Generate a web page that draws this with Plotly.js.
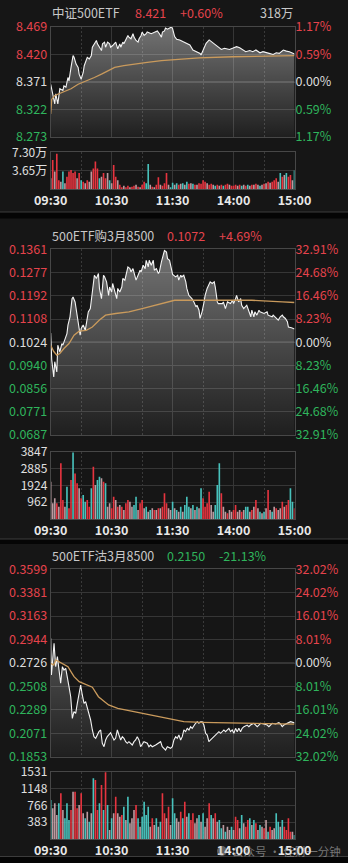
<!DOCTYPE html>
<html><head><meta charset="utf-8">
<script src="https://cdn.plot.ly/plotly-3.0.1.min.js"></script>
<style>html,body{margin:0;padding:0;background:#161616;}#c{width:348px;height:863px;}</style>
</head><body><div id="c"></div><script>
// ---------- data ----------
const names = ['中证500ETF','500ETF购3月8500','500ETF沽3月8500'];
const lastPrice = ['8.421','0.1072','0.2150'];
const lastChange = ['+0.60%','+4.69%','-21.13%'];
const turnover = '318万';
const timeTicks = [0,60,120,180,240];
const timeLabels = ['09:30','10:30','11:30','14:00','15:00'];
const halfHourTicks = [30,90,150,210];

// panel 1 : 中证500ETF
const p1Ticks = [8.469,8.420,8.371,8.322,8.273];
const p1Labels = ['8.469','8.420','8.371','8.322','8.273'];
const p1Pct = ['1.17%','0.59%','0.00%','0.59%','1.17%'];
const p1Min = [0,2,4,5,7,9,12,13,15,17,18,20,22,23,25,27,28,30,32,33,35,36,38,40,41,43,45,46,48,50,51,53,54,56,58,59,61,63,64,66,68,69,71,72,74,76,77,79,81,82,84,86,87,89,90,92,94,95,99,102,105,107,109,110,112,113,115,118,119,120,122,124,127,130,133,137,140,143,147,148,150,153,156,158,161,165,168,171,176,179,183,186,189,192,196,199,202,206,209,212,215,219,222,225,229,232,235,240];
const p1Val = [8.367,8.347,8.332,8.350,8.332,8.359,8.356,8.364,8.362,8.379,8.373,8.397,8.418,8.415,8.403,8.397,8.385,8.376,8.388,8.400,8.409,8.415,8.412,8.418,8.433,8.439,8.445,8.439,8.433,8.427,8.439,8.442,8.433,8.442,8.439,8.433,8.436,8.439,8.442,8.430,8.439,8.433,8.442,8.439,8.448,8.454,8.451,8.448,8.457,8.451,8.445,8.442,8.448,8.454,8.460,8.454,8.457,8.460,8.457,8.460,8.462,8.457,8.451,8.460,8.462,8.467,8.465,8.468,8.469,8.466,8.452,8.447,8.446,8.443,8.440,8.437,8.428,8.425,8.422,8.419,8.428,8.440,8.446,8.443,8.440,8.434,8.429,8.431,8.429,8.431,8.434,8.432,8.429,8.425,8.427,8.425,8.428,8.423,8.425,8.423,8.422,8.420,8.423,8.422,8.428,8.426,8.425,8.421];
const a1Min = [0,1,4,13,20,27,36,43,50,56,63,72,82,95,109,121,146,179,212,240];
const a1Val = [8.314,8.340,8.347,8.353,8.359,8.367,8.373,8.379,8.385,8.391,8.397,8.400,8.403,8.406,8.409,8.411,8.414,8.416,8.417,8.418];
const v1Ticks = [3.65,7.30];
const v1Labels = ['3.65万','7.30万'];
const v1 = [2.2,5.8,3.5,7.0,1.8,1.5,3.5,1.2,2.5,3.5,3.8,3.2,3.5,2.2,3.2,1.8,1.5,1.2,1.8,1.5,3.5,4.1,5.5,4.1,2.2,2.5,3.2,2.2,3.2,1.8,1.2,4.8,2.5,1.8,0.9,0.4,0.7,0.4,0.7,0.4,0.5,0.7,0.9,0.5,0.4,0.9,1.5,1.2,5.0,0.9,0.5,0.4,0.9,2.4,0.9,0.7,1.2,3.2,0.9,0.4,1.3,0.9,1.2,0.9,1.1,1.2,0.9,1.5,1.1,1.2,1.1,0.9,0.9,1.2,1.1,1.8,1.5,1.2,0.9,1.1,0.9,0.7,0.9,0.7,0.9,0.7,0.9,1.1,0.9,0.7,0.7,0.9,0.7,0.9,0.7,0.9,0.7,0.9,0.7,0.9,0.9,1.1,0.9,0.7,0.9,1.1,1.2,1.5,1.3,1.5,1.8,2.2,1.5,3.2,2.5,2.8,3.2,2.5,2.8,1.8,3.7];
const v1Dir = ("grgrrgtgrr"+"rrrgrtrgrg"+"grrrtgrrgt"+"grrgrrgrrg"+"rrgrgrrttg"+"rgrrgrrrgt"+"tgtrgtgtrg"+"trgrrrrgrr"+"gtrgrtrrgr"+"rrgrtgrtgr"+"grgtgrgrgr"+"rrgtrgtrrgt").split('');

// panel 2 : 500ETF购3月8500
const p2Ticks = [0.1361,0.1277,0.1192,0.1108,0.1024,0.0940,0.0856,0.0771,0.0687];
const p2Labels = ['0.1361','0.1277','0.1192','0.1108','0.1024','0.0940','0.0856','0.0771','0.0687'];
const p2Pct = ['32.91%','24.68%','16.46%','8.23%','0.00%','8.23%','16.46%','24.68%','32.91%'];
const p2Min = [0,1,3,4,6,7,9,11,12,14,16,17,19,21,22,24,25,27,29,30,32,34,35,37,39,40,42,43,45,47,48,50,52,53,55,57,58,60,61,63,65,66,68,70,71,73,75,76,78,79,81,83,84,86,88,89,91,93,94,96,97,99,101,102,104,106,107,109,111,112,114,115,117,119,120,123,125,126,128,129,131,133,134,136,138,139,141,143,144,146,147,149,151,152,154,156,157,159,161,162,164,165,169,170,172,174,177,179,180,182,183,185,187,188,190,193,195,197,198,200,201,203,205,206,210,213,214,218,219,221,224,226,228,229,231,233,234,237,240];
const p2Val = [0.1057,0.0960,0.0898,0.0953,0.0916,0.1013,0.0989,0.1019,0.1013,0.1037,0.1055,0.1086,0.1116,0.1182,0.1188,0.1170,0.1146,0.1098,0.1049,0.1074,0.1086,0.1067,0.1086,0.1134,0.1146,0.1182,0.1243,0.1267,0.1255,0.1273,0.1219,0.1182,0.1267,0.1261,0.1243,0.1194,0.1224,0.1206,0.1237,0.1206,0.1182,0.1219,0.1206,0.1224,0.1255,0.1249,0.1291,0.1297,0.1291,0.1279,0.1291,0.1261,0.1249,0.1267,0.1285,0.1279,0.1303,0.1291,0.1321,0.1297,0.1321,0.1303,0.1321,0.1285,0.1291,0.1273,0.1279,0.1315,0.1339,0.1357,0.1351,0.1327,0.1321,0.1291,0.1270,0.1261,0.1267,0.1249,0.1267,0.1261,0.1267,0.1243,0.1219,0.1194,0.1188,0.1182,0.1170,0.1152,0.1158,0.1140,0.1110,0.1134,0.1170,0.1194,0.1219,0.1237,0.1243,0.1237,0.1243,0.1224,0.1170,0.1164,0.1164,0.1170,0.1146,0.1170,0.1164,0.1176,0.1164,0.1182,0.1194,0.1170,0.1182,0.1158,0.1146,0.1158,0.1134,0.1116,0.1140,0.1116,0.1134,0.1122,0.1140,0.1134,0.1128,0.1134,0.1122,0.1116,0.1122,0.1116,0.1104,0.1116,0.1122,0.1116,0.1110,0.1098,0.1079,0.1076,0.1072];
const a2Min = [0,3,6,9,13,18,23,28,35,41,48,54,64,77,90,103,122,152,169,198,228,240];
const a2Val = [0.1013,0.0990,0.0977,0.0983,0.1001,0.1019,0.1049,0.1064,0.1067,0.1079,0.1104,0.1122,0.1128,0.1134,0.1146,0.1158,0.1176,0.1176,0.1177,0.1176,0.1170,0.1168];
const v2Ticks = [962,1924,2885,3847];
const v2Labels = ['962','1924','2885','3847'];
const v2 = [2133,895,1180,895,704,3180,1085,704,1847,609,2228,3800,2608,2037,1752,1180,1371,990,1085,704,1752,2989,1942,2228,2418,2323,2133,2037,704,895,609,1276,1085,704,800,704,514,895,1085,990,704,800,1276,514,895,1085,609,704,419,514,609,514,514,609,609,704,1466,895,609,514,990,609,514,419,704,419,800,1276,704,609,800,514,704,609,1752,1180,704,895,1561,800,419,800,1942,3180,1466,704,419,324,514,419,514,800,419,514,419,514,704,704,419,514,704,1085,609,419,324,419,609,1657,514,419,704,609,514,609,990,704,800,1085,1752,990,609];
const v2Dir = ("gggrgrrgtr"+"rtrrgrttrr"+"trgttgrtgg"+"rrgrgrgrrg"+"gttgrrgtgt"+"grgrgrrrgg"+"tgtgtgtttg"+"tgtgtrrrrg"+"gtttrggrgg"+"rrggrgttgr"+"grgtgtgrgt"+"grggrgrrttr").split('');

// panel 3 : 500ETF沽3月8500
const p3Ticks = [0.3599,0.3381,0.3163,0.2944,0.2726,0.2508,0.2289,0.2071,0.1853];
const p3Labels = ['0.3599','0.3381','0.3163','0.2944','0.2726','0.2508','0.2289','0.2071','0.1853'];
const p3Pct = ['32.02%','24.02%','16.01%','8.01%','0.00%','8.01%','16.01%','24.02%','32.02%'];
const p3Min = [0,0.7,3.3,4.9,6.6,8.2,9.8,11.5,13.1,14.8,16.4,18,19.7,21.3,22.9,24.6,26.2,27.9,29.5,31.1,32.8,34.4,36.1,37.7,39.3,41,42.6,44.3,45.9,47.5,49.2,50.8,52.5,54.1,55.7,57.4,59,60.7,62.3,63.9,65.6,67.2,68.9,70.5,72.1,73.8,75.4,77,80.3,82,83.6,85.2,86.9,88.5,90.2,91.8,95.1,96.7,98.3,100,103.3,106.6,108.2,109.8,111.5,113.1,114.8,118,119.7,121.3,123,124.6,126.2,127.9,129.5,131.1,132.8,134.4,136.1,137.7,139.3,141,142.6,144.3,145.9,147.5,149.2,150.8,152.5,154.1,155.7,157.4,159,160.7,162.3,163.9,165.6,167.2,170.5,172.1,173.8,175.4,177,178.7,180.3,182,183.6,185.2,186.9,188.5,190.2,193.4,195.1,196.7,200,201.6,203.3,204.9,206.6,209.8,213.1,214.8,216.4,218,221.3,224.6,226.2,227.9,229.5,232.8,236.1,240];
const p3Val = [0.2956,0.2614,0.2909,0.2692,0.2785,0.2661,0.2537,0.2692,0.2661,0.2676,
0.2568,0.2505,0.2412,0.2210,0.2273,0.2257,0.2350,0.2443,0.2521,0.2428,
0.2350,0.2366,0.2304,0.2257,0.2195,0.2102,0.2040,0.2024,0.2055,0.2086,
0.2102,0.1978,0.1946,0.2009,0.2040,0.2055,0.2077,0.2040,0.2009,0.2024,
0.2102,0.2055,0.2009,0.2040,0.2024,0.1993,0.1978,0.1993,0.1962,0.1993,
0.2009,0.2040,0.2009,0.1946,0.1978,0.1993,0.1978,0.1946,0.1962,0.1946,
0.1962,0.1978,0.1993,0.1946,0.1931,0.1915,0.1946,0.1931,0.1946,0.2009,
0.2040,0.2024,0.2055,0.2009,0.2040,0.2102,0.2086,0.2117,0.2102,0.2133,
0.2117,0.2148,0.2164,0.2179,0.2164,0.2179,0.2179,0.2148,0.2071,0.2055,
0.1993,0.2009,0.2024,0.2040,0.2055,0.2071,0.2086,0.2071,0.2102,0.2086,
0.2102,0.2117,0.2086,0.2102,0.2071,0.2117,0.2086,0.2117,0.2086,0.2117,
0.2133,0.2148,0.2133,0.2148,0.2164,0.2148,0.2133,0.2148,0.2164,0.2158,
0.2148,0.2133,0.2148,0.2164,0.2158,0.2170,0.2158,0.2133,0.2148,0.2164,0.2179,0.2168];
const a3Min = [0,3,5,8,14,17,21,23,28,34,41,47,57,66,82,97,115,131,148,164,180,197,213,230,240];
const a3Val = [0.2723,0.2707,0.2754,0.2738,0.2707,0.2692,0.2630,0.2599,0.2552,0.2530,0.2500,0.2412,0.2335,0.2304,0.2272,0.2240,0.2204,0.2179,0.2173,0.2170,0.2164,0.2158,0.2158,0.2155,0.2156];
const v3Ticks = [383,766,1148,1531];
const v3Labels = ['383','766','1148','1531'];
const v3 = [887,697,811,546,811,1038,659,470,811,432,659,1076,1076,697,773,1038,584,470,622,394,584,1380,1342,659,811,1228,659,1520,773,205,470,584,963,584,508,546,735,432,963,356,470,659,773,470,280,508,849,546,735,280,470,318,470,280,394,1038,584,470,735,318,925,584,470,394,622,470,849,508,584,432,584,356,470,546,394,584,280,470,811,546,470,584,394,432,243,318,167,280,205,280,205,508,432,243,546,356,280,432,470,318,432,356,205,318,280,243,432,167,280,205,243,584,394,280,432,280,205,470,167,167,91];
const v3Dir = ("tgggtrgttt"+"rgrrgrgtgt"+"gtrrtrtrtg"+"tgrggrtgtg"+"ggrtgttttg"+"rgtgtrrgrg"+"ttggrtrgtr"+"rggtgtggrt"+"grgttgtggt"+"grrgtgrrtg"+"trgtgrgtrg"+"gttgtrrrrgt").split('');

// ---------- styling ----------
const W = 348, H = 863;
const FONT = '"Noto Sans CJK SC", "Noto Sans", sans-serif';
const RED = '#e5434c', GREEN = '#2fb45c', WHITE = '#dcdcdc', GREY = '#c8c8c8';
const dirColor = {r:'#e6343f', t:'#48c2bc', g:'#bb9aa0'};
const GRID = '#363636', BORDER = '#474747';
const px = v => v / W, py = v => 1 - v / H;
const xDom = [px(50.7), px(294.5)];

function colorTicks(labels){
  const mid = (labels.length - 1) / 2;
  return labels.map((l,i)=>`<span style="color:${i<mid?RED:(i===mid?WHITE:GREEN)}">${l}</span>`);
}

const layout = {
  width: W, height: H, margin:{l:0,r:0,t:0,b:0},
  paper_bgcolor:'#161616', plot_bgcolor:'#161616',
  showlegend:false, font:{family:FONT, size:12.5, color:WHITE},
  shapes:[], annotations:[]
};
const data = [];

const panels = [
  {min:p1Min,val:p1Val,aMin:a1Min,aVal:a1Val,ticks:p1Ticks,labels:p1Labels,pct:p1Pct,vol:v1,dir:v1Dir,vTicks:v1Ticks,vLabels:v1Labels,vMax:7.30,
   price:[137,27], volY:[189.3,152.3], titleY:12.7},
  {min:p2Min,val:p2Val,aMin:a2Min,aVal:a2Val,ticks:p2Ticks,labels:p2Labels,pct:p2Pct,vol:v2,dir:v2Dir,vTicks:v2Ticks,vLabels:v2Labels,vMax:3847,
   price:[435,249.3], volY:[519,451.7], titleY:235.7},
  {min:p3Min,val:p3Val,aMin:a3Min,aVal:a3Val,ticks:p3Ticks,labels:p3Labels,pct:p3Pct,vol:v3,dir:v3Dir,vTicks:v3Ticks,vLabels:v3Labels,vMax:1531,
   price:[756.7,569.3], volY:[839,771.7], titleY:555}
];

panels.forEach((p, k) => {
  const xa = 2*k+1, xb = 2*k+2;
  const ya = 3*k+1, yr = 3*k+2, yv = 3*k+3;
  const xn = i => i===1 ? 'x' : 'x'+i;
  const yn = i => i===1 ? 'y' : 'y'+i;
  const lo = Math.min(...p.ticks), hi = Math.max(...p.ticks);
  const xBase = {domain:xDom, range:[0,240], tickvals:timeTicks, ticktext:timeLabels, showgrid:true, gridcolor:GRID, gridwidth:1,
    minor:{tickvals:halfHourTicks, showgrid:true, gridcolor:'#3a3a3a', griddash:'2px,2px', gridwidth:1},
    showline:true, mirror:true, linecolor:BORDER, linewidth:1, zeroline:false, ticks:'', fixedrange:true};
  layout['xaxis'+(xa===1?'':xa)] = Object.assign({}, xBase, {anchor:yn(ya), showticklabels:false});
  layout['xaxis'+xb] = Object.assign({}, xBase, {anchor:yn(yv), showticklabels:true,
    tickfont:{family:FONT, size:12.5, color:'#e8e8e8', weight:600}});
  layout['yaxis'+(ya===1?'':ya)] = {domain:[py(p.price[0]), py(p.price[1])], anchor:xn(xa), range:[lo,hi],
    tickvals:p.ticks, ticktext:colorTicks(p.labels), showgrid:true, gridcolor:GRID, zeroline:false,
    showline:true, mirror:true, linecolor:BORDER, ticks:'', tickfont:{family:FONT,size:12.5}, fixedrange:true};
  layout['yaxis'+yr] = {overlaying:yn(ya), side:'right', anchor:xn(xa), range:[lo,hi],
    tickvals:p.ticks, ticktext:colorTicks(p.pct), showgrid:false, zeroline:false, ticks:'',
    tickfont:{family:FONT,size:12.5}, fixedrange:true};
  layout['yaxis'+yv] = {domain:[py(p.volY[0]), py(p.volY[1])], anchor:xn(xb), range:[0,p.vMax],
    tickvals:p.vTicks, ticktext:p.vLabels, showgrid:true, gridcolor:GRID, zeroline:false,
    showline:true, mirror:true, linecolor:BORDER, ticks:'', tickfont:{family:FONT,size:12,color:'#e0e0e0'}, fixedrange:true};

  const base = p.ticks[(p.ticks.length-1)/2];
  layout.shapes.push({type:'line', xref:'paper', x0:xDom[0], x1:xDom[1], yref:yn(ya), y0:base, y1:base,
    line:{color:'#555555', width:1}, layer:'below'});

  data.push({type:'scatter', mode:'lines', x:p.min, y:p.val, xaxis:xn(xa), yaxis:yn(ya),
    line:{color:'#f4f4f4', width:1.1}, fill:'tozeroy',
    fillgradient:{type:'vertical', start:lo, stop:hi,
      colorscale:[[0,'rgba(255,255,255,0.04)'],[1,'rgba(255,255,255,0.40)']]},
    hoverinfo:'skip'});
  data.push({type:'scatter', mode:'lines', x:p.aMin, y:p.aVal, xaxis:xn(xa), yaxis:yn(yr),
    line:{color:'#c99a5c', width:1.3}, hoverinfo:'skip'});
  data.push({type:'bar', x:p.vol.map((_,i)=>i*2), y:p.vol, xaxis:xn(xb), yaxis:yn(yv),
    width:1.6, marker:{color:p.dir.map(c=>dirColor[c]), line:{width:0}}, hoverinfo:'skip'});

  const ty = py(p.titleY);
  layout.annotations.push({xref:'paper', yref:'paper', x:px(50), y:ty, xanchor:'left', yanchor:'middle', showarrow:false,
    text:names[k], font:{family:FONT, size:12.5, color:GREY}});
  const up = lastChange[k][0] === '+';
  layout.annotations.push({xref:'paper', yref:'paper', x:px(k===0?133:165), y:ty, xanchor:'left', yanchor:'middle', showarrow:false,
    text:lastPrice[k], font:{family:FONT, size:12.5, color:up?RED:GREEN}});
  layout.annotations.push({xref:'paper', yref:'paper', x:px(k===0?178:217), y:ty, xanchor:'left', yanchor:'middle', showarrow:false,
    text:lastChange[k], font:{family:FONT, size:12.5, color:up?RED:GREEN}});
});
layout.annotations.push({xref:'paper', yref:'paper', x:px(295), y:py(12.7), xanchor:'right', yanchor:'middle', showarrow:false,
  text:turnover, font:{family:FONT, size:12.5, color:GREY}});

[[212,218.5],[539,544],[856.5,863]].forEach(([a,b])=>{
  layout.shapes.push({type:'rect', xref:'paper', yref:'paper', x0:0, x1:1, y0:py(b), y1:py(a),
    fillcolor:'#050505', line:{width:0}, layer:'above'});
  layout.shapes.push({type:'line', xref:'paper', yref:'paper', x0:0, x1:1, y0:py(a), y1:py(a),
    line:{color:'#3c3c3c', width:1}, layer:'above'});
});

// watermark
layout.shapes.push({type:'circle', xref:'paper', yref:'paper', x0:px(217), x1:px(227), y0:py(856), y1:py(846),
  fillcolor:'rgba(190,190,190,0.45)', line:{width:0}});
layout.annotations.push({xref:'paper', yref:'paper', x:px(230), y:py(851), xanchor:'left', yanchor:'middle', showarrow:false,
  text:'公众号 · 佳财一分钟', font:{family:FONT, size:11.5, color:'rgba(200,200,200,0.55)'}});

Plotly.newPlot('c', data, layout, {staticPlot:true, displayModeBar:false});
</script></body></html>
